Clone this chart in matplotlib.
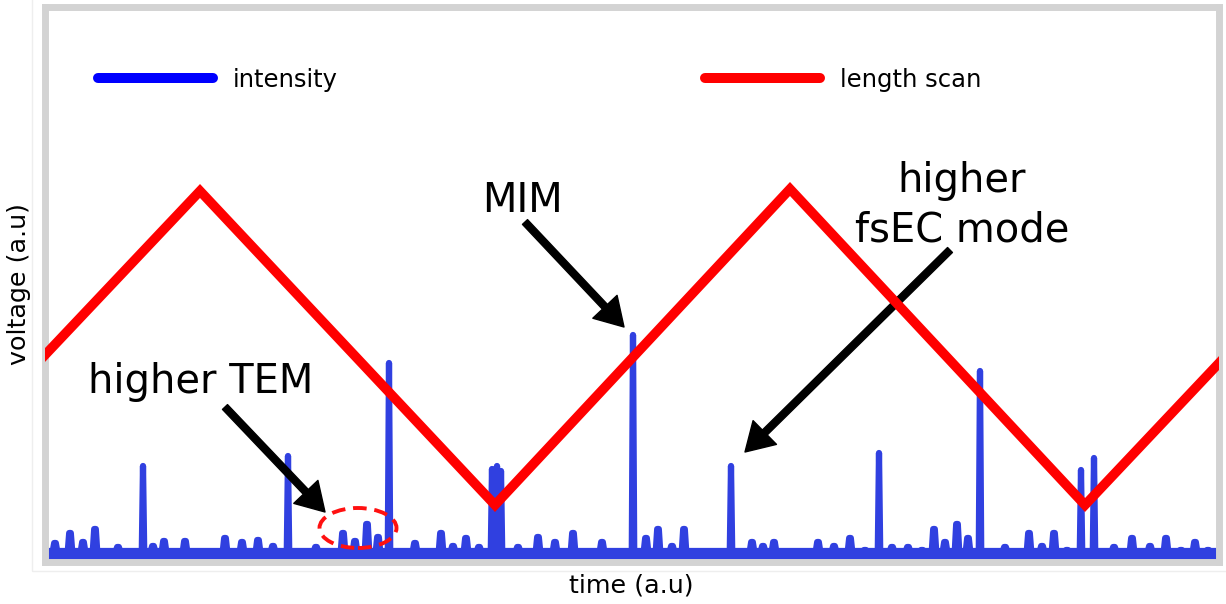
import numpy as np
import matplotlib
matplotlib.use("Agg")
import matplotlib.pyplot as plt
from matplotlib.lines import Line2D
from matplotlib.patches import Ellipse, Rectangle

# length scan (triangle ramp) vertices, arbitrary units
scan_t = [0, 155, 450, 745, 1040, 1175]
scan_v = [207, 371, 57, 373, 57, 200]

# intensity trace: baseline level and peaks (position, height)
base_level = 11
small_t = [10, 25, 38, 50, 73, 108, 119, 140, 180, 197, 213, 228, 271, 298,
           310, 322, 333, 370, 396, 408, 421, 434, 473, 493, 510, 528, 557,
           601, 613, 627, 639, 707, 718, 729, 773, 789, 805, 820, 847, 863,
           877, 889, 900, 912, 923, 960, 984, 997, 1009, 1022, 1069, 1087,
           1105, 1121, 1136, 1150, 1163]
small_v = [19, 29, 20, 33, 15, 16, 21, 21, 24, 20, 22, 16, 15, 29,
           21, 38, 25, 19, 29, 16, 24, 15, 15, 25, 20, 29, 20,
           24, 33, 16, 33, 20, 16, 20, 20, 16, 24, 12, 15, 15,
           12, 33, 20, 38, 24, 15, 29, 16, 29, 12, 15, 24,
           16, 24, 12, 20, 12]
big_t = [98, 243, 344, 447, 452, 456, 588, 686, 834, 935, 1036, 1049]
big_v = [96, 106, 199, 93, 96, 91, 227, 96, 109, 191, 92, 104]

t_max, v_max = 1173.5, 555.5

# small bumps are rounded humps, big peaks narrow spikes
shapes = [(t, v, 2.2, 0.8) for t, v in zip(small_t, small_v)]
shapes += [(t, v, 1.2, 0.0) for t, v in zip(big_t, big_v)]
shapes.sort()
trace_t = [0]
trace_v = [base_level]
for t, v, foot, top in shapes:
    if top > 0:
        trace_t += [t - foot, t - top, t + top, t + foot]
        trace_v += [base_level, v, v, base_level]
    else:
        trace_t += [t - foot, t, t + foot]
        trace_v += [base_level, v, base_level]
trace_t.append(t_max)
trace_v.append(base_level)

fig = plt.figure(figsize=(12.26, 6.04), dpi=100)
ax = fig.add_axes([45 / 1226, 42 / 604, 1173.5 / 1226, 555.5 / 604])

blue = '#3040e0'
ax.fill_between([0, t_max], 0, base_level, color=blue, lw=0, zorder=2)
ax.plot(trace_t, trace_v, color=blue, lw=4.5, solid_capstyle='round',
        solid_joinstyle='round', zorder=2)
ax.plot(scan_t, scan_v, color='#ff0000', lw=6.9, solid_joinstyle='miter',
        zorder=4)

arrow_kw = dict(facecolor='black', edgecolor='black', width=5,
                headwidth=24, headlength=20, shrink=0)
ax.annotate('', xy=(579, 235), xytext=(480, 340), arrowprops=arrow_kw, zorder=3)
ax.annotate('', xy=(700, 110), xytext=(905, 312), arrowprops=arrow_kw, zorder=3)
ax.annotate('', xy=(280, 50), xytext=(180, 155), arrowprops=arrow_kw, zorder=3)

ax.add_patch(Ellipse((313, 34), 77, 40, fill=False, ec='#ff1010', lw=2.8,
                     ls=(0, (3.5, 2)), zorder=5))

big = 28.8
ax.text(478, 350, 'MIM', fontsize=big, ha='center', va='baseline', zorder=6)
ax.text(43, 169, 'higher TEM', fontsize=big, ha='left', va='baseline', zorder=6)
ax.text(917, 370, 'higher', fontsize=big, ha='center', va='baseline', zorder=6)
ax.text(917, 320, 'fsEC mode', fontsize=big, ha='center', va='baseline', zorder=6)

ax.set_xlim(0, t_max)
ax.set_ylim(0, v_max)
ax.set_xticks([])
ax.set_yticks([])
for s in ax.spines.values():
    s.set_color('#d3d3d3')
    s.set_linewidth(5)
ax.set_xlabel('time (a.u)', fontsize=18.3, labelpad=8)
ax.set_ylabel('voltage (a.u)', fontsize=18.3, labelpad=10)

handles = [Line2D([], [], color='#0000ff', lw=7.2, solid_capstyle='round'),
           Line2D([], [], color='#ff0000', lw=7.2, solid_capstyle='round')]
fig.legend(handles, ['intensity', 'length scan'], ncol=2, frameon=False,
           loc='center left', bbox_to_anchor=(98 / 1226, 1 - 80 / 604),
           fontsize=17.5, handlelength=4.75, handletextpad=0.8,
           columnspacing=15.1, borderpad=0, borderaxespad=0)

fig.add_artist(Rectangle((32 / 1226, 33 / 604), 1, 1, fill=False,
                         ec='#eeeeee', lw=1, transform=fig.transFigure))

fig.savefig('out.png', dpi=100)
